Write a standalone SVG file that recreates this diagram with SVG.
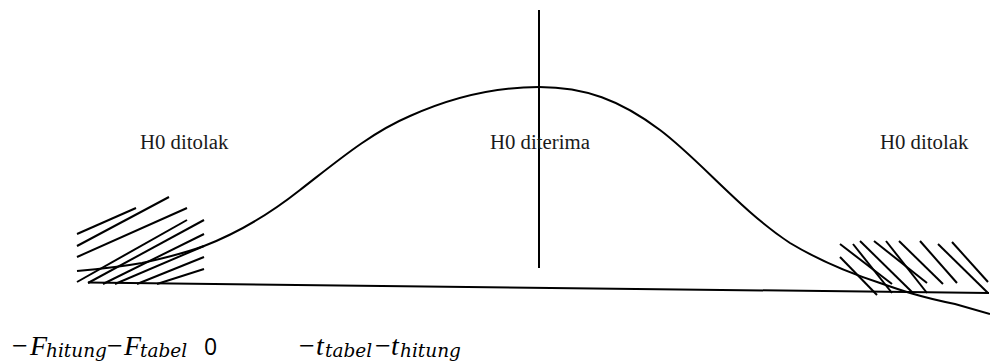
<svg xmlns="http://www.w3.org/2000/svg" width="990" height="362" viewBox="0 0 990 362">
<style>
.ln{stroke:#000;stroke-width:2;fill:none;stroke-linecap:butt}
.lbl{font-family:"Liberation Serif","Times New Roman",serif;font-size:20.8px;fill:#1a1a1a}
.mi{font-family:"DejaVu Serif",serif;font-style:italic;fill:#000}
.mf{font-family:"Liberation Serif","Times New Roman",serif;font-style:italic;fill:#000;font-size:28px}
.mo{font-family:"Liberation Serif","Times New Roman",serif;fill:#000;font-size:28px}
.sub{font-size:18.5px}
.zero{font-family:"Open Sans","Liberation Sans",sans-serif;font-size:23px;fill:#000}
</style>
<rect width="990" height="362" fill="#fff"/>
<g id="axis">
<line class="ln" x1="88" y1="282.5" x2="989" y2="293"/>
<line class="ln" x1="539" y1="10" x2="539" y2="268"/>
</g>
<g id="curve">
<path class="ln" d="M77,271 C100,269 125,266 142,263 C165,258 185,253 204,246 C230,236 262,220 300,190 C335,163 370,133 410,116 C450,98 495,87 539,87 C585,87 620,100 660,130 C700,160 740,210 790,243 C815,258 840,270 880,283 C900,290 920,297 955,304 L990,314"/>
</g>
<g id="hatch-left">
<line class="ln" x1="77" y1="234" x2="136" y2="208"/>
<line class="ln" x1="77" y1="246" x2="169" y2="197"/>
<line class="ln" x1="77" y1="257" x2="187" y2="208"/>
<line class="ln" x1="77" y1="282" x2="187" y2="220"/>
<line class="ln" x1="88" y1="283" x2="204" y2="220"/>
<line class="ln" x1="103" y1="284" x2="204" y2="234"/>
<line class="ln" x1="115" y1="284" x2="204" y2="246"/>
<line class="ln" x1="137" y1="284" x2="204" y2="257"/>
<line class="ln" x1="157" y1="284" x2="204" y2="269"/>
</g>
<g id="hatch-right">
<line class="ln" x1="840" y1="257" x2="877" y2="295"/>
<line class="ln" x1="840" y1="244" x2="892" y2="284"/>
<line class="ln" x1="853" y1="244" x2="892" y2="293"/>
<line class="ln" x1="860" y1="241" x2="913" y2="293"/>
<line class="ln" x1="874" y1="241" x2="927" y2="283"/>
<line class="ln" x1="886" y1="241" x2="927" y2="293"/>
<line class="ln" x1="899" y1="241" x2="943" y2="284"/>
<line class="ln" x1="920" y1="241" x2="957" y2="283"/>
<line class="ln" x1="938" y1="244" x2="988" y2="293"/>
<line class="ln" x1="952" y1="242" x2="988" y2="282"/>
</g>
<g id="label-left"><text class="lbl" x="140" y="148.5">H0 ditolak</text></g>
<g id="label-center"><text class="lbl" x="490" y="149">H0 diterima</text></g>
<g id="label-right"><text class="lbl" x="880" y="148.5">H0 ditolak</text></g>
<g id="axis-labels">
<text class="mo" x="12" y="355">−</text>
<text class="mf" x="30" y="355">F</text>
<text class="mi sub" x="46" y="357">hitung</text>
<text class="mo" x="107" y="355">−</text>
<text class="mf" x="124" y="355">F</text>
<text class="mi sub" x="140" y="357">tabel</text>
<text class="zero" x="204" y="355">0</text>
<text class="mo" x="299" y="355">−</text>
<text class="mf" x="316" y="355">t</text>
<text class="mi sub" x="325" y="357">tabel</text>
<text class="mo" x="375" y="355">−</text>
<text class="mf" x="391" y="355">t</text>
<text class="mi sub" x="400" y="357">hitung</text>
</g>
</svg>
